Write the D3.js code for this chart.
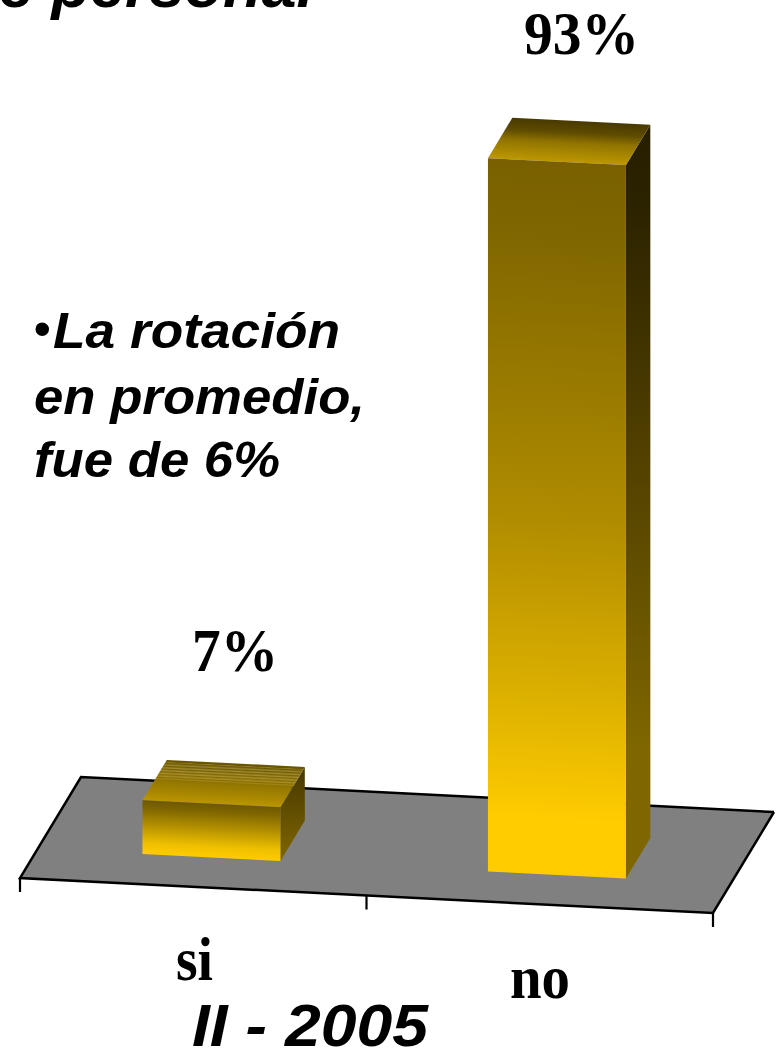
<!DOCTYPE html>
<html><head><meta charset="utf-8">
<script src="https://cdn.jsdelivr.net/npm/d3@7"></script>
<style>html,body{margin:0;padding:0;background:#fff;overflow:hidden}svg{display:block}</style>
</head><body><svg id="c" width="781" height="1049"></svg>
<script>
const categories = ["si", "no"];
const values = [7, 93];
const valueLabels = ["7%", "93%"];
const titleFragment = "de personal";
const noteBullet = "•";
const noteLines = ["La rotación", "en promedio,", "fue de 6%"];
const periodLabel = "II - 2005";

const W = 693, slope = 35 / 693;          // floor front edge run and tilt
const origin = [20, 878];                 // front-left floor corner
const depth = [61, -101];                 // floor depth vector
const inset = 0.29, barDepthShare = 0.4;  // bars stand mid-way across the floor
const barW = 138;

const svg = d3.select("#c");
const defs = svg.append("defs");
const x = d3.scaleBand().domain(categories).range([1, W - 1]).paddingInner(0.5).paddingOuter(0.25);
const h = d3.scaleLinear().domain([0, 100]).range([0, 767]);
const fx = u => origin[0] + u;
const fy = u => origin[1] + u * slope;
const line = d3.line();

function gradient(id, p1, p2, stops) {
  const g = defs.append("linearGradient").attr("id", id).attr("gradientUnits", "userSpaceOnUse")
    .attr("x1", p1[0]).attr("y1", p1[1]).attr("x2", p2[0]).attr("y2", p2[1]);
  stops.forEach(s => g.append("stop").attr("offset", s[0]).attr("stop-color", s[1]));
}

// floor
svg.append("path")
  .attr("d", line([[fx(0), fy(0)], [fx(0) + depth[0], fy(0) + depth[1]], [fx(W) + depth[0], fy(W) + depth[1]], [fx(W), fy(W)]]) + "Z")
  .attr("fill", "#808080");
svg.append("path")
  .attr("d", line([[fx(W) + depth[0], fy(W) + depth[1]], [fx(0) + depth[0], fy(0) + depth[1]], [fx(0), fy(0)], [fx(W), fy(W)], [fx(W) + depth[0], fy(W) + depth[1]]]))
  .attr("fill", "none").attr("stroke", "#000").attr("stroke-width", 2.5);

// category ticks
[0, W / 2, W].forEach(u => svg.append("line")
  .attr("x1", fx(u)).attr("x2", fx(u)).attr("y1", fy(u)).attr("y2", fy(u) + 14)
  .attr("stroke", "#000").attr("stroke-width", 2.2));

const stripes = [[0, "#6a5500"], [0.05, "#6a5500"], [0.06, "#8f7a25"], [0.09, "#6e5900"], [0.13, "#9a8530"], [0.16, "#735d00"], [0.2, "#a08a35"], [0.23, "#7a6200"], [0.27, "#a48d35"], [0.3, "#806700"], [0.34, "#a89030"], [0.37, "#866c00"], [0.41, "#a88e28"], [0.44, "#8a6f00"], [0.47, "#a08418"]];
const stopSets = [
  { front: [[0, "#6f5800"], [0.15, "#7f6600"], [0.5, "#bb9600"], [0.8, "#efc000"], [1, "#ffcc00"]],
    side: [[0, "#463800"], [1, "#806600"]],
    top: stripes.concat([[0.5, "#8f7300"], [0.55, "#957800"], [0.8, "#a88600"], [1, "#b89400"]]) },
  { front: [[0, "#7a6000"], [0.1, "#7f6600"], [0.5, "#b08c00"], [0.8, "#e6b800"], [0.92, "#ffcc00"], [1, "#ffcc00"]],
    side: [[0, "#261e00"], [0.1, "#2b2200"], [0.5, "#584600"], [0.83, "#7f6600"], [1, "#7f6600"]],
    top: [[0, "#483900"], [0.3, "#5f4c00"], [0.55, "#917400"], [1, "#bb9600"]] }
];

// bars
categories.forEach((c, i) => {
  const u0 = x(c) + (x.bandwidth() - barW) / 2, u1 = u0 + barW;
  const H = h(values[i]);
  const ox = depth[0] * inset, oy = depth[1] * inset;
  const dx = depth[0] * barDepthShare, dy = depth[1] * barDepthShare;
  const xl = fx(u0) + ox, xr = fx(u1) + ox;
  const yl = fy(u0) + oy, yr = fy(u1) + oy;
  gradient("front" + i, [xl, yl - H], [xl - slope * H, yl], stopSets[i].front);
  gradient("side" + i, [xr, yr - H + dy], [xr, yr], stopSets[i].side);
  gradient("top" + i, [xl + dx, yl - H + dy], [xl + dx + slope * dy, yl - H], stopSets[i].top);
  const g = svg.append("g");
  g.append("path").attr("fill", `url(#side${i})`)
    .attr("d", line([[xr, yr - H], [xr + dx, yr - H + dy], [xr + dx, yr + dy], [xr, yr]]) + "Z");
  g.append("path").attr("fill", `url(#top${i})`)
    .attr("d", line([[xl, yl - H], [xl + dx, yl - H + dy], [xr + dx, yr - H + dy], [xr, yr - H]]) + "Z");
  g.append("path").attr("fill", `url(#front${i})`)
    .attr("d", line([[xl, yl - H], [xr, yr - H], [xr, yr], [xl, yl]]) + "Z");
});

const serif = "'Liberation Serif', serif", sans = "'Liberation Sans', Arial, sans-serif";
function txt(s, xp, yp, size, len, fam, italic, anchor) {
  const t = svg.append("text").text(s).attr("x", xp).attr("y", yp)
    .attr("font-family", fam).attr("font-weight", "bold")
    .attr("font-style", italic ? "italic" : "normal")
    .attr("font-size", size).attr("fill", "#000").attr("text-anchor", anchor || "start");
  if (len) t.attr("textLength", len).attr("lengthAdjust", "spacingAndGlyphs");
  return t;
}
// value labels
txt(valueLabels[0], 192, 671, 62, 86, serif);
txt(valueLabels[1], 524, 54, 62, 115, serif);
// category labels
txt(categories[0], 176, 980, 62, 37, serif);
txt(categories[1], 510, 998, 62, 60, serif);
// fragment & notes
txt(titleFragment, 314, 7, 63, null, sans, true, "end");
svg.append("text").text(noteBullet).attr("x", 33.5).attr("y", 346)
  .attr("font-family", sans).attr("font-size", 50).attr("fill", "#000");
txt(noteLines[0], 53, 348, 50, 287, sans, true);
txt(noteLines[1], 34, 414, 50, 331, sans, true);
txt(noteLines[2], 34, 477, 50, 246, sans, true);
txt(periodLabel, 192, 1046, 60, 236, sans, true);
</script></body></html>
